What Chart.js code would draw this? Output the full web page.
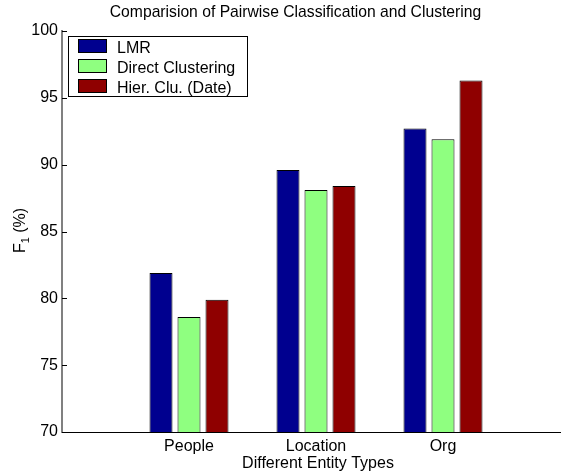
<!DOCTYPE html>
<html><head><meta charset="utf-8">
<script src="https://cdn.jsdelivr.net/npm/chart.js@4/dist/chart.umd.min.js"></script>
<style>
html,body{margin:0;padding:0;background:#fff;overflow:hidden;width:561px;height:473px;}
#wrap{position:relative;width:580px;height:473px;}
canvas{display:block;}
</style></head><body>
<div id="wrap"><canvas id="c" width="580" height="473"></canvas></div>
<script>
const chartTitle = 'Comparision of Pairwise Classification and Clustering';
const xTitle = 'Different Entity Types';
const categories = ['People', 'Location', 'Org'];
const seriesNames = ['LMR', 'Direct Clustering', 'Hier. Clu. (Date)'];
const lmr = [81.9, 89.6, 92.7];
const direct = [78.6, 88.1, 91.9];
const hier = [79.9, 88.4, 96.3];
const yTicks = [70, 75, 80, 85, 90, 95, 100];
const colors = ['#00008F', '#8FFF80', '#8F0000'];

const FONT = "'Liberation Sans', Arial, Helvetica, sans-serif";
const pad = arr => [null, ...arr, null];

const decor = {
  id: 'decor',
  afterDatasetsDraw(chart) {
    const ctx = chart.ctx;
    const ca = chart.chartArea;
    const ys = chart.scales.y;
    ctx.save();
    // inward y ticks
    ctx.strokeStyle = '#000';
    ctx.lineWidth = 1;
    yTicks.forEach(v => {
      const y = Math.round(ys.getPixelForValue(v)) + 0.5;
      ctx.beginPath();
      ctx.moveTo(ca.left, y);
      ctx.lineTo(ca.left + 5, y);
      ctx.stroke();
    });
    // title
    ctx.fillStyle = '#000';
    ctx.textBaseline = 'alphabetic';
    ctx.textAlign = 'center';
    ctx.font = '15.7px ' + FONT;
    ctx.fillText(chartTitle, 295.5, 17);
    // x title
    ctx.font = '16px ' + FONT;
    ctx.fillText(xTitle, 318, 467.5);
    // y title with subscript
    ctx.save();
    ctx.translate(25, 230.5);
    ctx.rotate(-Math.PI / 2);
    ctx.textAlign = 'left';
    ctx.font = '16px ' + FONT;
    const wF = ctx.measureText('F').width;
    const wR = ctx.measureText(' (%)').width;
    ctx.font = '11px ' + FONT;
    const w1 = ctx.measureText('1').width;
    let x0 = -(wF + w1 + wR) / 2;
    ctx.font = '16px ' + FONT;
    ctx.fillText('F', x0, 0);
    ctx.font = '11px ' + FONT;
    ctx.fillText('1', x0 + wF, 4);
    ctx.font = '16px ' + FONT;
    ctx.fillText(' (%)', x0 + wF + w1, 0);
    ctx.restore();
    // legend
    ctx.fillStyle = '#fff';
    ctx.fillRect(68, 36, 180, 61);
    ctx.strokeStyle = '#000';
    ctx.lineWidth = 1;
    ctx.strokeRect(68.5, 36.5, 179, 60);
    ctx.font = '16px ' + FONT;
    ctx.textAlign = 'left';
    chart.data.datasets.forEach((ds, i) => {
      const top = 39 + i * 20;
      ctx.fillStyle = ds.backgroundColor;
      ctx.fillRect(78, top, 29, 14);
      ctx.strokeStyle = '#000';
      ctx.strokeRect(78.5, top + 0.5, 28, 13);
      ctx.fillStyle = '#000';
      ctx.fillText(ds.label, 117, top + 13.5);
    });
    ctx.restore();
  }
};

new Chart(document.getElementById('c'), {
  type: 'bar',
  data: {
    labels: ['', ...categories, ''],
    datasets: [lmr, direct, hier].map((d, i) => ({
      label: seriesNames[i],
      data: pad(d),
      backgroundColor: colors[i],
      borderColor: '#000',
      borderWidth: 1,
      borderSkipped: false,
      categoryPercentage: 0.6614,
      barPercentage: 0.821
    }))
  },
  options: {
    responsive: false,
    animation: false,
    devicePixelRatio: 1,
    layout: { padding: { left: 0, right: 10, top: 31, bottom: 0 } },
    plugins: { legend: { display: false }, title: { display: false }, tooltip: { enabled: false } },
    scales: {
      x: {
        offset: false,
        grid: { display: true, drawOnChartArea: false, drawTicks: false },
        border: { display: true, color: '#000', width: 1 },
        ticks: { autoSkip: false, maxRotation: 0, minRotation: 0, padding: 5, color: '#000', font: { family: FONT, size: 16 } },
        afterFit: s => { s.height = 41; }
      },
      y: {
        min: 70, max: 100,
        grid: { display: true, drawOnChartArea: false, drawTicks: false },
        border: { display: true, color: '#808080', width: 2 },
        afterBuildTicks: s => { s.ticks = yTicks.map(v => ({ value: v })); },
        ticks: { padding: 4, color: '#000', font: { family: FONT, size: 16 } },
        afterFit: s => { s.width = 62; }
      }
    }
  },
  plugins: [decor]
});
</script>
</body></html>
